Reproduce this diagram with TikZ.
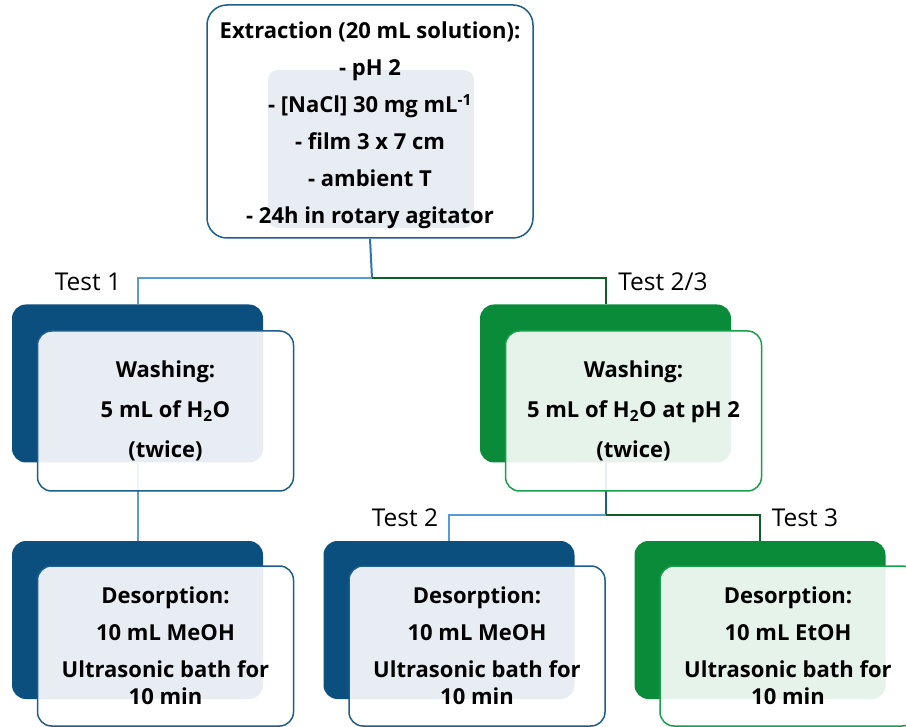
\documentclass[tikz,border=0pt]{standalone}
\usepackage{fontspec}
\setmainfont{Open Sans}
\usepackage{tikz}
\usetikzlibrary{positioning,calc}

\definecolor{navy}{HTML}{0B4F7F}
\definecolor{navyedge}{HTML}{1B5E8C}
\definecolor{leaf}{HTML}{0A8B3A}
\definecolor{leafedge}{HTML}{16A04B}
\definecolor{skyline}{HTML}{5B9BD5}
\definecolor{stemline}{HTML}{2F75B5}
\definecolor{pineline}{HTML}{0E5F26}
\definecolor{panel}{HTML}{E8ECF3}

\newcommand{\boxfont}{\fontsize{22}{37}\selectfont\bfseries}
\newcommand{\washfont}{\fontsize{22}{40}\selectfont\bfseries}

\begin{document}
\begin{tikzpicture}[x=1pt, y=-1pt,
  back/.style={fill=#1, rounded corners=14pt, minimum width=251pt, minimum height=158pt, inner sep=0pt},
  front/.style={draw=#1, line width=1.5pt, fill=white, fill opacity=0.9, text opacity=1, rounded corners=14pt,
    minimum width=256pt, minimum height=160pt, align=center, font=\boxfont, inner sep=0pt},
  lbl/.style={font=\fontsize{24.5}{26}\selectfont},
  link/.style={line width=2pt, draw=#1},
]
  \useasboundingbox (0,0) rectangle (906,727);
  \clip (0,0) rectangle (906,727);

  % junctions
  \coordinate (j1) at (372,278);
  \coordinate (j2) at (605.5,515);

  % Extraction box
  \node[fill=panel, rounded corners=10pt, minimum width=206pt, minimum height=158pt, inner sep=0pt] (panel) at (371,149) {};
  \node[draw=navyedge, line width=1.5pt, rounded corners=20pt, minimum width=326pt, minimum height=233pt,
    inner sep=0pt] (extract) at (370,121.5) {};
  \node[align=center, font=\boxfont, inner sep=0pt] (extracttext) at ([yshift=-4pt]extract.center)
    {Extraction (20 mL solution):\\- pH 2\\- [NaCl] 30 mg mL\textsuperscript{-1}\\- film 3 x 7 cm\\- ambient T\\- 24h in rotary agitator};

  % back boxes (placed first so the links run behind the front boxes)
  \node[back=navy] (w1back) at (137.5,383.5) {};
  \node[back=leaf] (w2back) at (605.5,383.5) {};
  \node[back=navy] (d1back) at (137.5,620) {};
  \node[back=navy] (d2back) at (449,620) {};
  \node[back=leaf] (d3back) at (760,620) {};

  % links
  \draw[link=stemline] (extract.south) -- (j1);
  \draw[link=skyline] (j1) -| (w1back.north);
  \draw[link=pineline] (j1) -| (w2back.north);
  \draw[link=skyline] (w1back.south) -- (d1back.north);
  \draw[link=navyedge] (w2back.south) -- (j2);
  \draw[link=skyline] (j2) -| (d2back.north);
  \draw[link=pineline] (j2) -| (d3back.north);

  % front boxes
  \node[front=navyedge, font=\washfont] (wash1) at ([shift={(28,27.5)}]w1back.center)
    {Washing:\\5 mL of H\textsubscript{2}O\\(twice)};
  \node[front=leafedge, font=\washfont] (wash2) at ([shift={(28,27.5)}]w2back.center)
    {Washing:\\5 mL of H\textsubscript{2}O at pH 2\\(twice)};
  \node[front=navyedge] (desorb1) at ([shift={(28,26)}]d1back.center)
    {Desorption:\\10 mL MeOH\\Ultrasonic bath for\\[-10pt]10 min};
  \node[front=navyedge] (desorb2) at ([shift={(28,26)}]d2back.center)
    {Desorption:\\10 mL MeOH\\Ultrasonic bath for\\[-10pt]10 min};
  \node[front=leafedge] (desorb3) at ([shift={(28,26)}]d3back.center)
    {Desorption:\\10 mL EtOH\\Ultrasonic bath for\\[-10pt]10 min};

  % test labels
  \node[lbl] (t1) at (88,282) {Test 1};
  \node[lbl] (t23) at (663,282) {Test 2/3};
  \node[lbl] (t2) at (405,518) {Test 2};
  \node[lbl] (t3) at (805,518) {Test 3};
\end{tikzpicture}
\end{document}
